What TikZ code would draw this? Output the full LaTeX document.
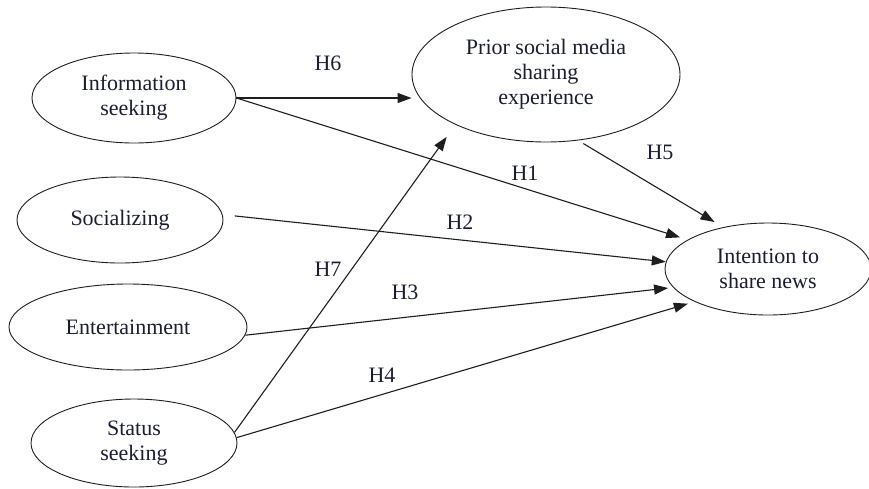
\documentclass[tikz,border=0pt]{standalone}
\usepackage{fontspec}
\setmainfont{Liberation Serif}
\usetikzlibrary{shapes.geometric,arrows.meta}
\definecolor{inkline}{RGB}{30,30,30}
\definecolor{inktext}{RGB}{28,28,52}
\begin{document}
\begin{tikzpicture}[x=1pt,y=-1pt,
  construct/.style={ellipse, draw=inkline, line width=0.9pt, inner sep=0pt,
    align=center, text=inktext, font=\fontsize{22}{25}\selectfont},
  hyp/.style={text=inktext, inner sep=0pt, font=\fontsize{22}{25}\selectfont},
  link/.style={draw=inkline, line width=1.1pt,
    -{Triangle[length=14pt,width=10pt]}}]
\useasboundingbox (0,0) rectangle (869,488);

% constructs
\node[construct, minimum width=204pt, minimum height=90pt] (info) at (134,98) {Information\\seeking};
\node[construct, minimum width=206pt, minimum height=86pt] (social) at (120,220) {Socializing};
\node[construct, minimum width=238pt, minimum height=86pt] (ent) at (128,327) {Entertainment};
\node[construct, minimum width=206pt, minimum height=88pt] (status) at (134,443) {Status\\seeking};
\node[construct, minimum width=268pt, minimum height=135pt] (prior) at (546,74.5) {Prior social media\\sharing\\experience};
\node[construct, minimum width=206pt, minimum height=92pt] (intent) at (768,269) {Intention to\\share news};

% hypothesised paths
\draw[link] (info.east) -- (info.east -| prior.west);
\draw[link, shorten >=8pt] (info.east) -- (intent.160);
\draw[link, shorten <=12pt] (social.3) -- (intent.176);
\draw[link, shorten >=5pt] (ent.-4) -- (intent.191);
\draw[link, shorten >=7pt] (status.3) -- (intent.204);
\draw[link, shorten <=6pt, shorten >=10pt] (prior.-64) -- (intent.137);
\draw[link, shorten >=15pt] (status.6) -- (prior.209);

% path labels
\node[hyp] (h6) at (328,63) {H6};
\node[hyp] (h1) at (525,173) {H1};
\node[hyp] (h2) at (460,222) {H2};
\node[hyp] (h7) at (328,269) {H7};
\node[hyp] (h3) at (405,292) {H3};
\node[hyp] (h5) at (660,152) {H5};
\node[hyp] (h4) at (382,375) {H4};
\end{tikzpicture}
\end{document}
